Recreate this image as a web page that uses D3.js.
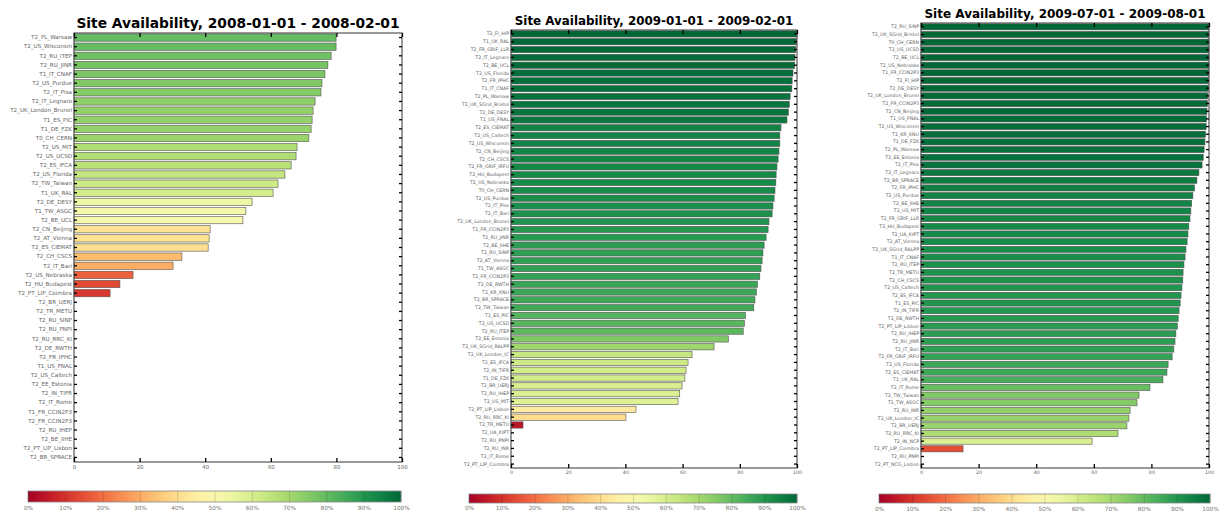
<!DOCTYPE html>
<html>
<head>
<meta charset="utf-8">
<script src="https://cdn.jsdelivr.net/npm/d3@7"></script>
<style>
  body { margin: 0; background: #fff; }
  svg { display: block; font-family: "DejaVu Sans", sans-serif; }
</style>
</head>
<body>
<svg id="chart" width="1219" height="511"></svg>
<script>
// ---- data ----
const titles = [
  "Site Availability, 2008-01-01 - 2008-02-01",
  "Site Availability, 2009-01-01 - 2009-02-01",
  "Site Availability, 2009-07-01 - 2009-08-01"
];

const sites2008jan = ["T2_PL_Warsaw","T2_US_Wisconsin","T2_RU_ITEP","T2_RU_JINR","T1_IT_CNAF","T2_US_Purdue","T2_IT_Pisa",
  "T2_IT_Legnaro","T2_UK_London_Brunel","T1_ES_PIC","T1_DE_FZK","T0_CH_CERN","T2_US_MIT","T2_US_UCSD","T2_ES_IFCA",
  "T2_US_Florida","T2_TW_Taiwan","T1_UK_RAL","T2_DE_DESY","T1_TW_ASGC","T2_BE_UCL","T2_CN_Beijing","T2_AT_Vienna",
  "T2_ES_CIEMAT","T2_CH_CSCS","T2_IT_Bari","T2_US_Nebraska","T2_HU_Budapest","T2_PT_LIP_Coimbra","T2_BR_UERJ",
  "T2_TR_METU","T2_RU_SINP","T2_RU_PNPI","T2_RU_RRC_KI","T2_DE_RWTH","T2_FR_IPHC","T1_US_FNAL","T2_US_Caltech",
  "T2_EE_Estonia","T2_IN_TIFR","T2_IT_Rome","T1_FR_CCIN2P3","T2_FR_CCIN2P3","T2_RU_IHEP","T2_BE_IIHE",
  "T2_PT_LIP_Lisbon","T2_BR_SPRACE"];
const avail2008jan = [79.9,79.9,78.4,77.4,76.5,75.6,75.3,73.5,72.9,72.6,72.3,71.6,68,67.7,66.2,64.3,62.2,60.7,54.3,
  52.4,51.5,41.5,41.2,40.9,32.9,30.2,18,14,11,0,0,0,0,0,0,0,0,0,0,0,0,0,0,0,0,0,0];

const sites2009jan = ["T2_FI_HIP","T1_UK_RAL","T2_FR_GRIF_LLR","T2_IT_Legnaro","T2_BE_UCL","T2_US_Florida","T2_FR_IPHC",
  "T1_IT_CNAF","T2_PL_Warsaw","T2_UK_SGrid_Bristol","T2_DE_DESY","T1_US_FNAL","T2_ES_CIEMAT","T2_US_Caltech",
  "T2_US_Wisconsin","T2_CN_Beijing","T2_CH_CSCS","T2_FR_GRIF_IRFU","T2_HU_Budapest","T2_US_Nebraska","T0_CH_CERN",
  "T2_US_Purdue","T2_IT_Pisa","T2_IT_Bari","T2_UK_London_Brunel","T1_FR_CCIN2P3","T2_RU_JINR","T2_BE_IIHE",
  "T2_RU_SINP","T2_AT_Vienna","T1_TW_ASGC","T2_FR_CCIN2P3","T2_DE_RWTH","T2_KR_KNU","T2_BR_SPRACE","T2_TW_Taiwan",
  "T1_ES_PIC","T2_US_UCSD","T2_RU_ITEP","T2_EE_Estonia","T2_UK_SGrid_RALPP","T2_UK_London_IC","T2_ES_IFCA",
  "T2_IN_TIFR","T1_DE_FZK","T2_BR_UERJ","T2_RU_IHEP","T2_US_MIT","T2_PT_LIP_Lisbon","T2_RU_RRC_KI","T2_TR_METU",
  "T2_UA_KIPT","T2_RU_PNPI","T2_RU_INR","T2_IT_Rome","T2_PT_LIP_Coimbra"];
const avail2009jan = [100,99.8,99.6,99.3,99.2,98.6,98.3,98.2,97.6,97.3,97,96.5,94.4,94,94,93.7,93.4,93,92.7,92.6,
  92.3,92,91.6,91.3,90.2,89.9,89.2,88.5,88.1,87.8,87.4,87,86.2,85.8,85.3,84.9,82,81.6,81.2,76,71,63.3,61.9,61.2,
  60.8,59.8,59,58.4,43.7,40.2,4.2,0,0,0,0,0];

const sites2009jul = ["T2_RU_SINP","T2_UK_SGrid_Bristol","T0_CH_CERN","T2_US_UCSD","T2_BE_UCL","T2_US_Nebraska",
  "T1_FR_CCIN2P3","T2_FI_HIP","T2_DE_DESY","T2_UK_London_Brunel","T2_FR_CCIN2P3","T2_CN_Beijing","T1_US_FNAL",
  "T2_US_Wisconsin","T2_KR_KNU","T1_DE_FZK","T2_PL_Warsaw","T2_EE_Estonia","T2_IT_Pisa","T2_IT_Legnaro",
  "T2_BR_SPRACE","T2_FR_IPHC","T2_US_Purdue","T2_BE_IIHE","T2_US_MIT","T2_FR_GRIF_LLR","T2_HU_Budapest",
  "T2_UA_KIPT","T2_AT_Vienna","T2_UK_SGrid_RALPP","T1_IT_CNAF","T2_RU_ITEP","T2_TR_METU","T2_CH_CSCS",
  "T2_US_Caltech","T2_ES_IFCA","T1_ES_PIC","T2_IN_TIFR","T2_DE_RWTH","T2_PT_LIP_Lisbon","T2_RU_IHEP","T2_RU_JINR",
  "T2_IT_Bari","T2_FR_GRIF_IRFU","T2_US_Florida","T2_ES_CIEMAT","T1_UK_RAL","T2_IT_Rome","T2_TW_Taiwan",
  "T1_TW_ASGC","T2_RU_INR","T2_UK_London_IC","T2_BR_UERJ","T2_RU_RRC_KI","T2_IN_NCP","T2_PT_LIP_Coimbra",
  "T2_RU_PNPI","T2_PT_NCG_Lisbon"];
const avail2009jul = [100,100,100,100,100,100,100,99.9,99.8,99.6,99.5,99.3,99.1,99,98.8,98.6,98.3,98,97.6,96.5,
  95.8,95,94.4,94,93.7,93.4,93,92.7,92.4,92,91.7,91.3,91,90.9,90.6,90.3,90,89.6,89.3,89,88.5,88.2,87.8,87.2,85.8,
  85.4,84,79.5,75.7,75,72.6,72.2,71.5,68.4,59.4,14.6,0,0];

const xTicks = [0, 20, 40, 60, 80, 100];
const cbTicks = [0, 10, 20, 30, 40, 50, 60, 70, 80, 90, 100];

// ---- drawing ----
const svg = d3.select("#chart");
const color = v => d3.interpolateRdYlGn(v / 100);

// gradient for the colour bars
const grad = svg.append("defs").append("linearGradient").attr("id", "rdylgn");
d3.range(0, 101, 5).forEach(t => {
  grad.append("stop").attr("offset", t + "%").attr("stop-color", color(t));
});

const panels = [
  {sites: sites2008jan, values: avail2008jan, title: titles[0],
   left: 74, right: 402, top: 33, bottom: 462, titleY: 28, titleSize: 13.8, labelSize: 5.6, tickSize: 5.4,
   cb: {left: 28, right: 401, top: 491, bottom: 502, labelY: 509.5}},
  {sites: sites2009jan, values: avail2009jan, title: titles[1],
   left: 511, right: 797, top: 30, bottom: 468, titleY: 25, titleSize: 11.9, labelSize: 4.7, tickSize: 4.8,
   cb: {left: 469, right: 797, top: 494, bottom: 503, labelY: 510}},
  {sites: sites2009jul, values: avail2009jul, title: titles[2],
   left: 921, right: 1209, top: 23, bottom: 468, titleY: 18, titleSize: 12, labelSize: 4.7, tickSize: 4.8,
   cb: {left: 879, right: 1210, top: 494, bottom: 503, labelY: 510.5}}
];

panels.forEach(p => {
  const g = svg.append("g");
  const x = d3.scaleLinear().domain([0, 100]).range([p.left, p.right]);
  const y = d3.scaleBand().domain(p.sites).range([p.top, p.bottom])
    .paddingInner(0.2).paddingOuter(0.1);
  const rows = p.sites.map((s, i) => ({site: s, value: p.values[i]}));

  g.selectAll("rect.bar")
    .data(rows.filter(d => d.value > 0))
    .enter().append("rect")
    .attr("class", "bar")
    .attr("x", x(0))
    .attr("y", d => y(d.site))
    .attr("width", d => x(d.value) - x(0))
    .attr("height", y.bandwidth())
    .attr("fill", d => color(d.value))
    .attr("stroke", "#555")
    .attr("stroke-width", 0.6);

  // frame
  g.append("rect")
    .attr("x", p.left).attr("y", p.top)
    .attr("width", p.right - p.left).attr("height", p.bottom - p.top)
    .attr("fill", "none").attr("stroke", "#555").attr("stroke-width", 1.2);

  const yl = g.append("g").attr("transform", `translate(${p.left},0)`)
    .call(d3.axisLeft(y).tickSizeInner(-3).tickSizeOuter(0).tickPadding(2));
  yl.selectAll("text").attr("font-size", p.labelSize).attr("fill", "#666").attr("font-family", "DejaVu Sans");
  const yr = g.append("g").attr("transform", `translate(${p.right},0)`)
    .call(d3.axisRight(y).tickSizeInner(-3).tickSizeOuter(0).tickFormat(""));

  const xb = g.append("g").attr("transform", `translate(0,${p.bottom})`)
    .call(d3.axisBottom(x).tickValues(xTicks).tickSizeInner(-4).tickSizeOuter(0).tickPadding(3));
  xb.selectAll("text").attr("font-size", p.tickSize).attr("fill", "#666").attr("font-family", "DejaVu Sans");
  const xt = g.append("g").attr("transform", `translate(0,${p.top})`)
    .call(d3.axisTop(x).tickValues(xTicks).tickSizeInner(-4).tickSizeOuter(0).tickFormat(""));

  [yl, yr, xb, xt].forEach(a => {
    a.select(".domain").remove();
    a.selectAll("line").attr("stroke", "#000").attr("stroke-width", 1.3);
  });

  g.append("text")
    .attr("x", (p.left + p.right) / 2).attr("y", p.titleY)
    .attr("text-anchor", "middle")
    .attr("font-size", p.titleSize).attr("font-weight", "bold").attr("fill", "#000")
    .text(p.title);

  // colour bar
  const cb = p.cb;
  const cx = d3.scaleLinear().domain([0, 100]).range([cb.left, cb.right]);
  g.append("rect")
    .attr("x", cb.left).attr("y", cb.top)
    .attr("width", cb.right - cb.left).attr("height", cb.bottom - cb.top)
    .attr("fill", "url(#rdylgn)").attr("stroke", "#888").attr("stroke-width", 0.8);
  const ca = g.append("g").attr("transform", `translate(0,${cb.bottom})`)
    .call(d3.axisBottom(cx).tickValues(cbTicks).tickSizeInner(-(cb.bottom - cb.top)).tickSizeOuter(0)
      .tickPadding(0).tickFormat(d => d + "%"));
  ca.select(".domain").remove();
  ca.selectAll("line").attr("stroke", "#000").attr("stroke-opacity", 0.18).attr("stroke-width", 0.8);
  ca.selectAll("text").attr("dy", null).attr("y", cb.labelY - cb.bottom)
    .attr("font-size", 5.8).attr("fill", "#777").attr("font-family", "DejaVu Sans");
});
</script>
</body>
</html>
